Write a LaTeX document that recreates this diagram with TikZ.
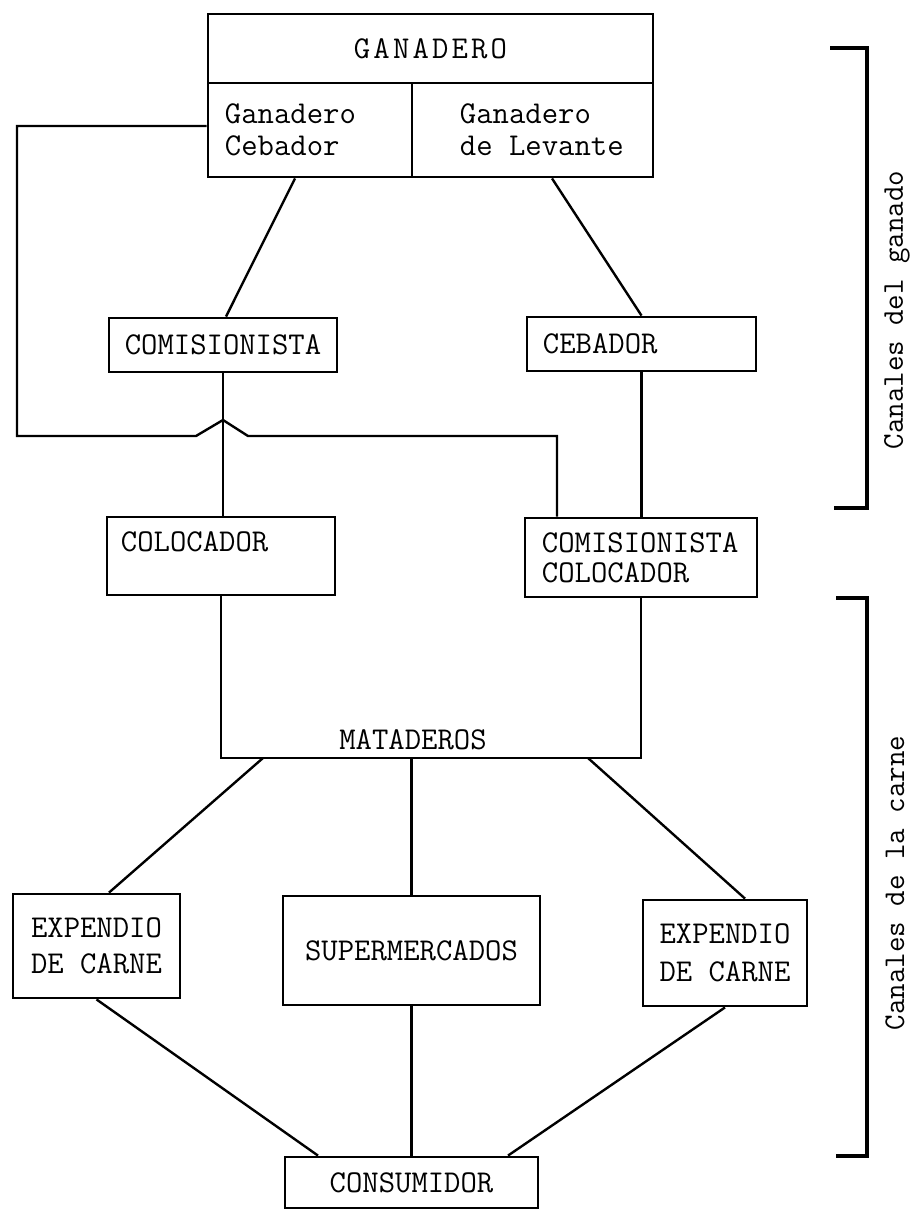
\documentclass[tikz,border=0pt]{standalone}
\usepackage{fontspec}
\setmonofont{Latin Modern Mono}
\usepackage{tikz}
\usetikzlibrary{calc}

\begin{document}
\begin{tikzpicture}[x=0.025cm,y=-0.025cm,
    lbl/.style={font=\ttfamily\fontsize{22.6}{22.8}\selectfont},
    box/.style={lbl,draw,line width=2pt,inner sep=0pt},
    conn/.style={line width=1.7pt},
    side/.style={line width=2.6pt},
    chan/.style={font=\ttfamily\fontsize{21.4}{24}\selectfont,rotate=90}]
    \useasboundingbox (0,0) rectangle (918,1211);

    % Ganadero
    \node[box,minimum width=11.125cm,minimum height=1.725cm] (gan) at (430.5,48.5) {\addfontfeature{LetterSpace=10}GANADERO};
    \node[box,minimum width=5.1cm,minimum height=2.35cm,text width=4.25cm,align=left] (cebgan) at (310,130) {Ganadero\\Cebador};
    \node[box,minimum width=6.025cm,minimum height=2.35cm,align=left] (levgan) at (532.5,130) {\makebox[3.625cm][l]{Ganadero}\\\makebox[3.625cm][l]{de Levante}};

    % Canales del ganado
    \node[box,minimum width=5.7cm,minimum height=1.35cm] (com) at (223,345) {COMISIONISTA};
    \node[box,minimum width=5.725cm,minimum height=1.35cm,text width=4.925cm,align=left] (ceb) at (641.5,344) {CEBADOR};
    \node[box,minimum width=5.7cm,text width=5cm,text height=0.8625cm,text depth=1.0875cm,align=left] (colo) at (221,556) {COLOCADOR};
    \node[box,minimum width=5.8cm,minimum height=1.975cm,text width=4.95cm,align=left] (comcol) at (641,557.5) {COMISIONISTA\\[-1.4pt]COLOCADOR};

    \draw[conn] ($(cebgan.south)+(-15,0)$) -- ($(com.north)+(3,0)$);
    \draw[conn] ($(levgan.south)+(19.5,0)$) -- (ceb.north);
    \draw[conn] (com.south) -- (com.south |- colo.north);
    \draw[conn] (ceb.south) -- (ceb.south |- comcol.north);

    % Loop with hop over the comisionista line
    \draw[conn] ($(cebgan.west)+(0,-4)$) -| (17,436) -- (196,436) -- (223,420) -- (248,436) -| ($(comcol.north)+(-84,0)$);

    % Mataderos
    \node[lbl] (mat) at (413,740) {MATADEROS};
    \coordinate (matb) at (413,758);
    \draw[conn] (colo.south) |- (matb) -| (comcol.south);

    % Canales de la carne
    \node[box,minimum width=4.175cm,minimum height=2.6cm,align=center] (exp1) at (96.5,946) {EXPENDIO\\[2.8pt]DE CARNE};
    \node[box,minimum width=6.425cm,minimum height=2.725cm] (sup) at (411.5,950.5) {SUPERMERCADOS};
    \node[box,minimum width=4.1cm,minimum height=2.65cm,align=center] (exp2) at (725,953) {EXPENDIO\\[4.2pt]DE CARNE};
    \node[box,minimum width=6.325cm,minimum height=1.275cm] (cons) at (411.5,1182.5) {CONSUMIDOR};

    \draw[conn] ($(matb)+(-150,0)$) -- ($(exp1.north)+(12.5,0)$);
    \draw[conn] (sup.north |- matb) -- (sup.north);
    \draw[conn] ($(matb)+(175,0)$) -- ($(exp2.north)+(20,0)$);
    \draw[conn] (exp1.south) -- ($(cons.north)+(-93.5,0)$);
    \draw[conn] (sup.south) -- (cons.north);
    \draw[conn] (exp2.south) -- ($(cons.north)+(96.5,0)$);

    % Side brackets
    \draw[side] (830,48) -| (867,508) -- (834,508);
    \node[chan] (ganado) at (897,310) {Canales del ganado};
    \draw[side] (836,598) -| (867,1156) -- (836,1156);
    \node[chan] (carne) at (895,883) {Canales de la carne};
\end{tikzpicture}
\end{document}
